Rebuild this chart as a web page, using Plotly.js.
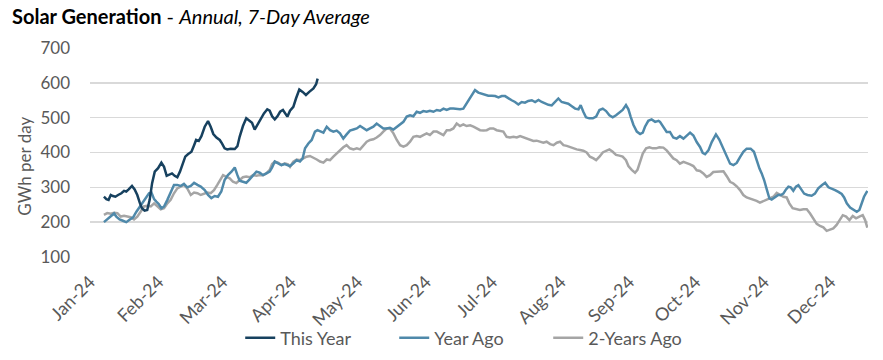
<!DOCTYPE html>
<html>
<head>
<meta charset="utf-8">
<script src="https://cdn.plot.ly/plotly-3.0.1.min.js"></script>
<style>
  html, body { margin: 0; padding: 0; background: #ffffff; }
  #chart { width: 883px; height: 360px; }
</style>
</head>
<body>
<div id="chart"></div>
<script>
// Day of year (0 = 1 Jan 2024) for the month tick marks
const monthStartDays = [0, 31, 60, 91, 121, 152, 182, 213, 244, 274, 305, 335];
const monthLabels = ["Jan-24", "Feb-24", "Mar-24", "Apr-24", "May-24", "Jun-24",
                     "Jul-24", "Aug-24", "Sep-24", "Oct-24", "Nov-24", "Dec-24"];

const seriesNames = ["This Year", "Year Ago", "2-Years Ago"];
const yAxisTitle = "GWh per day";

// This Year (GWh per day, 7-day average)
const thisYearDays = [6.3,7.4,8.4,9.4,10.4,11.5,12.7,14.2,15.4,16.4,17.5,19.0,20.2,21.4,22.5,23.5,24.7,25.9,27.0,28.1,
  29.3,30.8,32.3,33.5,34.7,36.0,37.1,38.3,39.5,40.7,41.9,43.1,44.3,45.9,47.1,48.0,49.2,50.4,51.9,53.4,
  54.6,55.8,57.2,58.7,59.7,60.9,62.1,63.6,65.5,66.7,67.7,69.2,70.7,72.2,73.3,74.5,75.7,77.2,78.7,80.2,
  81.3,82.4,83.6,84.8,86.0,87.3,88.8,89.3,90.5,92.0,93.2,94.7,96.2,97.7,99.2,101.1,102.3,103.0];
const thisYearValues = [273,266,264,278,275,273,278,283,290,288,294,304,294,278,256,240,233,235,264,312,
  345,355,371,359,333,336,340,333,329,345,369,388,395,402,421,436,433,447,474,490,
  474,453,443,436,426,412,409,411,410,418,445,476,498,491,485,466,479,493,512,524,
  520,504,495,504,517,522,507,503,520,531,555,581,574,565,574,584,596,612];

// Year Ago
const yearAgoDays = [6.3,7.8,9.4,10.9,11.9,13.4,14.9,16.4,17.9,19.5,21.0,22.5,24.0,25.5,26.7,27.8,29.0,30.0,31.1,32.3,
  33.5,35.0,36.5,38.0,39.5,41.0,42.5,44.0,45.6,47.1,48.6,50.1,51.9,53.4,54.9,56.4,57.9,59.4,60.9,62.4,
  64.0,65.5,66.7,67.7,69.2,70.7,72.2,73.8,75.3,76.8,78.3,79.8,81.3,82.4,83.6,85.1,86.6,88.1,89.6,
  90.5,92.0,93.5,95.0,96.2,97.3,98.8,100.3,101.8,102.9,104.1,105.6,107.1,108.6,110.1,111.6,113.1,114.6,116.1,117.6,
  119.2,120.7,122.2,123.7,125.2,126.7,128.2,129.7,131.2,132.7,134.2,135.7,137.3,138.8,140.3,141.8,143.3,144.8,146.3,147.8,
  149.3,150.8,152.3,153.8,155.4,156.9,158.4,159.9,161.4,162.9,164.4,165.9,167.4,168.9,170.4,172.0,
  174.2,175.7,177.2,178.7,180.2,181.8,183.3,184.8,186.3,187.8,189.3,190.8,192.3,193.8,195.3,196.8,198.3,199.9,201.4,202.9,
  204.4,205.9,207.4,208.9,210.4,211.9,213.4,214.9,216.4,218.0,219.5,221.0,222.0,223.2,224.4,225.9,227.5,229.0,230.5,232.0,
  233.5,235.0,236.5,238.0,239.5,241.0,242.5,243.6,244.6,245.9,247.4,248.9,250.1,251.1,252.6,254.1,255.7,257.2,
  257.9,259.4,260.9,262.4,263.9,265.4,266.9,268.5,270.0,271.5,273.0,274.5,276.0,277.2,278.3,279.8,281.3,283.2,284.7,286.6,
  288.1,289.6,291.1,292.6,294.1,295.6,297.1,298.9,300.4,301.6,302.9,303.9,305.0,306.2,307.4,308.4,309.9,311.4,312.5,313.7,
  314.9,316.0,317.0,318.2,319.4,320.5,321.5,323.1,324.6,326.5,328.0,329.5,331.1,332.6,334.1,335.6,337.1,338.6,340.1,341.2,
  342.4,343.9,345.4,346.9,348.1,349.2,350.2,351.7];
const yearAgoValues = [200,208,218,225,216,208,204,200,207,214,230,245,259,273,283,285,266,259,252,240,
  245,264,288,307,307,304,310,300,304,313,307,302,292,278,269,275,273,288,321,335,
  345,357,335,319,316,313,323,333,345,342,335,340,345,357,374,369,364,367,364,
  361,369,378,374,383,412,426,436,460,464,460,457,474,464,460,463,455,440,452,463,
  466,469,476,469,464,469,474,483,476,469,469,471,466,474,480,488,503,507,504,517,
  514,519,517,520,517,522,520,526,522,526,526,524,524,526,541,560,
  579,572,569,566,563,563,562,558,562,562,555,550,545,538,545,543,548,550,545,551,
  545,540,537,535,545,555,545,542,540,533,526,524,536,517,501,498,498,503,522,526,
  519,507,501,507,514,522,536,524,503,479,460,453,457,474,491,495,488,491,
  488,473,459,459,443,440,447,440,449,457,449,430,416,399,395,406,430,452,437,411,
  387,368,364,370,387,402,411,411,402,378,354,340,321,294,268,265,271,278,278,282,
  294,302,300,290,302,306,297,282,278,276,282,297,306,313,300,297,292,287,281,271,
  254,242,237,230,235,254,273,290];

// 2-Years Ago
const twoYearsAgoDays = [6.3,7.8,9.4,10.9,12.4,13.9,15.4,16.9,18.4,19.9,21.4,22.9,24.4,25.9,27.5,29.0,30.5,32.0,33.5,35.0,
  36.5,38.0,39.5,41.0,42.5,44.0,45.6,47.1,48.6,50.1,51.6,53.1,54.6,56.1,57.6,59.1,60.2,61.7,63.2,64.7,
  66.2,67.7,69.2,70.7,72.2,73.8,75.3,76.8,78.3,79.8,81.3,82.4,83.6,85.1,86.6,88.1,89.6,
  90.5,92.0,93.5,95.0,96.5,98.0,99.5,101.1,102.6,104.1,105.6,107.1,108.6,110.1,111.6,113.1,114.6,116.1,117.6,119.2,
  120.7,122.2,123.7,125.2,126.7,128.2,129.7,131.2,132.7,134.2,135.7,137.3,138.8,140.3,141.8,143.3,144.8,146.3,147.8,149.3,
  150.8,152.3,153.8,155.4,156.9,158.4,159.9,161.4,162.9,164.4,165.9,167.4,168.9,170.4,172.0,
  173.5,175.0,176.5,178.0,179.5,181.0,182.5,184.0,185.5,187.0,188.5,190.0,191.6,193.1,194.6,196.1,197.6,199.1,200.6,202.1,
  203.6,205.1,206.6,208.2,209.7,211.2,212.7,214.2,215.7,217.2,218.7,220.2,221.7,223.2,224.7,226.2,227.8,229.0,230.5,232.0,
  233.5,235.0,236.5,238.0,239.5,241.0,242.5,243.6,245.1,246.6,247.7,248.9,250.1,251.6,253.1,254.6,256.1,257.6,
  259.4,260.9,262.4,263.9,265.4,266.9,268.5,270.0,271.5,273.0,274.5,276.0,277.5,279.0,280.5,282.0,283.5,285.0,286.6,288.1,
  289.6,291.1,292.6,294.1,295.6,297.1,298.6,300.1,301.6,303.1,304.7,306.2,307.7,309.2,310.7,312.2,313.7,315.2,316.4,317.9,
  319.7,321.2,322.8,324.3,325.8,327.3,328.8,330.3,331.8,333.3,334.8,336.3,337.8,339.3,340.6,342.1,343.6,345.1,346.6,348.1,
  349.6,350.7,351.7];
const twoYearsAgoValues = [221,226,224,227,226,216,218,216,214,208,216,230,245,247,245,254,245,237,240,254,
  264,283,297,302,307,297,278,285,283,278,281,285,283,292,307,321,335,330,326,316,
  312,321,329,331,329,335,333,335,335,340,350,367,374,371,364,369,366,
  359,374,380,378,383,388,390,386,380,374,371,380,378,388,397,405,415,421,412,409,
  412,409,419,431,436,438,443,450,460,469,469,455,436,421,417,421,431,445,447,445,
  450,455,450,460,460,455,450,464,464,469,483,476,481,476,478,
  474,469,464,463,464,469,469,464,463,460,445,443,445,443,447,443,440,436,433,434,
  431,428,431,424,421,428,431,421,419,415,412,409,407,405,400,388,383,378,388,400,
  405,409,402,393,391,388,378,361,350,342,350,374,397,412,415,412,412,415,
  414,406,395,383,378,368,373,370,366,361,349,347,340,330,335,344,344,344,346,332,
  316,311,303,292,278,271,268,265,261,256,261,265,268,273,284,278,273,271,254,240,
  237,235,237,237,225,211,195,189,185,175,179,182,192,206,220,216,206,218,211,216,
  220,206,184];

const FONT = "Lato, 'Open Sans', sans-serif";
const colors = ["#17415F", "#4F89AA", "#A5A5A5"];

const traces = [
  { x: thisYearDays, y: thisYearValues },
  { x: yearAgoDays, y: yearAgoValues },
  { x: twoYearsAgoDays, y: twoYearsAgoValues }
].map((d, i) => ({
  type: "scatter",
  mode: "lines",
  name: seriesNames[i],
  x: d.x,
  y: d.y,
  line: { color: colors[i], width: 2.5 },
  hoverinfo: "skip"
}));
// Draw order: older series underneath
const ordered = [traces[2], traces[1], traces[0]];

const layout = {
  width: 883,
  height: 360,
  paper_bgcolor: "#ffffff",
  plot_bgcolor: "#ffffff",
  margin: { l: 90, r: 15, t: 48, b: 103, pad: 0, autoexpand: false },
  font: { family: FONT, color: "#595959", size: 16 },
  title: {
    text: "<b>Solar Generation</b> - <i>Annual, 7-Day Average</i>",
    font: { family: FONT, size: 20, color: "#000000" },
    x: 12 / 883, xref: "container", xanchor: "left",
    y: 1 - 17 / 360, yref: "container", yanchor: "middle"
  },
  showlegend: true,
  legend: {
    orientation: "h",
    traceorder: "reversed",
    x: 0.49, xanchor: "center",
    y: -0.388, yanchor: "middle",
    font: { family: FONT, size: 18, color: "#595959" },
    entrywidth: 109,
    bgcolor: "rgba(0,0,0,0)"
  },
  annotations: [{
    text: yAxisTitle,
    textangle: -90,
    xref: "paper", yref: "paper",
    x: (25 - 90) / 778, y: (257.3 - 167) / 209,
    xanchor: "center", yanchor: "middle",
    showarrow: false,
    font: { family: FONT, size: 17, color: "#595959" }
  }],
  xaxis: {
    range: [0, 352],
    tickmode: "array",
    tickvals: monthStartDays,
    ticktext: monthLabels,
    tickangle: -45,
    showgrid: false,
    zeroline: false,
    showline: false,
    ticks: "",
    ticklabelstandoff: 10,
    tickfont: { family: FONT, size: 18, color: "#595959" },
    fixedrange: true
  },
  yaxis: {
    range: [100, 700],
    tickvals: [100, 200, 300, 400, 500, 600, 700],
    showgrid: true,
    gridcolor: "#D9D9D9",
    gridwidth: 1.5,
    zeroline: false,
    showline: false,
    ticks: "",
    ticklabelstandoff: 19,
    tickfont: { family: FONT, size: 17, color: "#595959" },
    fixedrange: true
  }
};

Plotly.newPlot("chart", ordered, layout, { displayModeBar: false, staticPlot: true });
</script>
</body>
</html>
